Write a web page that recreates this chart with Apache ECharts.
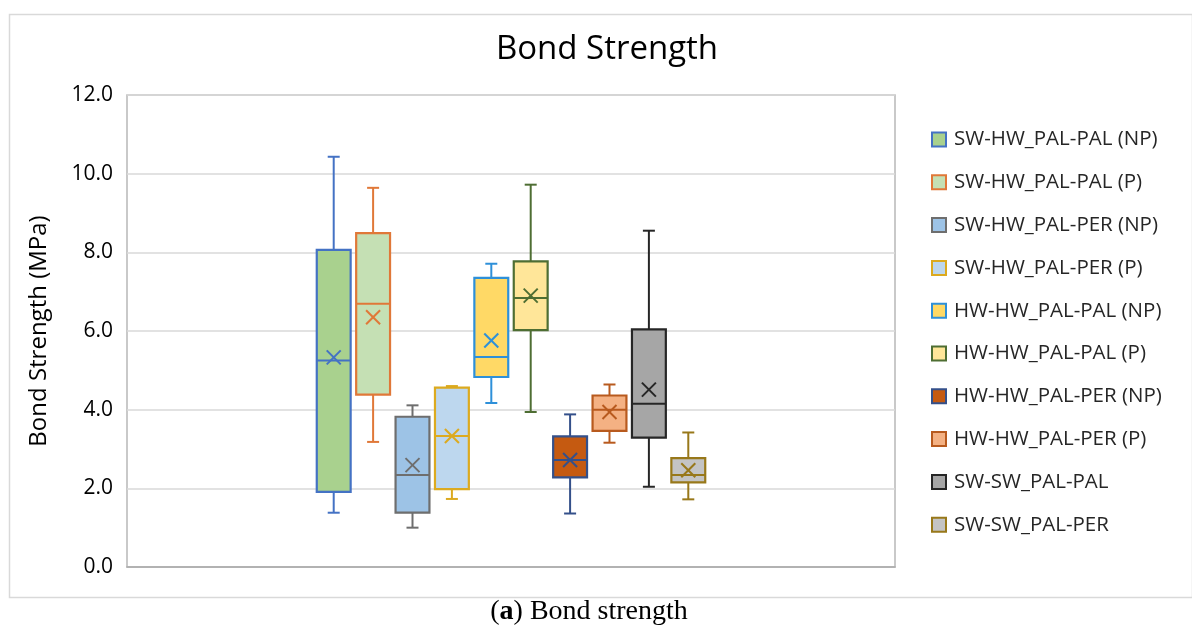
<!DOCTYPE html>
<html><head><meta charset="utf-8">
<script src="https://cdn.jsdelivr.net/npm/echarts@6/dist/echarts.min.js"></script>
<style>html,body{margin:0;padding:0;background:#fff}#c{width:1192px;height:626px}</style>
</head><body><div id="c"></div><script>
const seriesNames = ['SW-HW_PAL-PAL (NP)','SW-HW_PAL-PAL (P)','SW-HW_PAL-PER (NP)','SW-HW_PAL-PER (P)','HW-HW_PAL-PAL (NP)','HW-HW_PAL-PAL (P)','HW-HW_PAL-PER (NP)','HW-HW_PAL-PER (P)','SW-SW_PAL-PAL','SW-SW_PAL-PER'];
const minVals    = [1.38, 3.18, 1.00, 1.73, 4.17, 3.94, 1.36, 3.16, 2.04, 1.72];
const q1Vals     = [1.91, 4.38, 1.38, 1.98, 4.83, 6.02, 2.28, 3.46, 3.29, 2.15];
const medianVals = [5.25, 6.69, 2.34, 3.33, 5.34, 6.84, 2.72, 4.00, 4.15, 2.34];
const q3Vals     = [8.06, 8.49, 3.82, 4.56, 7.35, 7.77, 3.32, 4.36, 6.04, 2.77];
const maxVals    = [10.43, 9.64, 4.11, 4.60, 7.71, 9.72, 3.88, 4.64, 8.55, 3.42];
const meanVals   = [5.33, 6.35, 2.59, 3.33, 5.76, 6.90, 2.72, 3.94, 4.51, 2.46];
const fillColors   = ['#a9d18e','#c5e0b4','#9dc3e6','#bdd7ee','#ffd966','#ffe699','#c55a11','#f4b183','#a6a6a6','#c4c4c4'];
const borderColors = ['#4472c4','#e07838','#6e6e6e','#dcaa1f','#2e90d9','#4e6e33','#34508a','#b85a1e','#262626','#98781a'];
const categories = [''];
const yMin = 0, yMax = 12, yInterval = 2;

const FONT = 'Open Sans';
const GROUP_FRAC = 0.513;
const BOX_FRAC = 0.86;

function renderBox(idx) {
  return function (params, api) {
    const n = seriesNames.length;
    const band = api.size([1, 0])[0];
    const slot = band * GROUP_FRAC / n;
    const bw = slot * BOX_FRAC;
    const cx = api.coord([api.value(0), 0])[0] + (idx - (n - 1) / 2) * slot;
    const y = k => api.coord([api.value(0), api.value(k)])[1];
    const ya = y(1), yq1 = y(2), ymed = y(3), yq3 = y(4), yb = y(5), ymean = y(6);
    const stroke = borderColors[idx];
    const ls = {stroke: stroke, lineWidth: 2, fill: null};
    const cap = 6, xs = 7;
    return {type: 'group', children: [
      {type: 'line', shape: {x1: cx, y1: yb, x2: cx, y2: yq3}, style: ls},
      {type: 'line', shape: {x1: cx, y1: yq1, x2: cx, y2: ya}, style: ls},
      {type: 'line', shape: {x1: cx - cap, y1: yb, x2: cx + cap, y2: yb}, style: ls},
      {type: 'line', shape: {x1: cx - cap, y1: ya, x2: cx + cap, y2: ya}, style: ls},
      {type: 'rect', shape: {x: cx - bw / 2, y: yq3, width: bw, height: yq1 - yq3}, style: {fill: fillColors[idx], stroke: stroke, lineWidth: 2.2}},
      {type: 'line', shape: {x1: cx - bw / 2, y1: ymed, x2: cx + bw / 2, y2: ymed}, style: ls},
      {type: 'line', shape: {x1: cx - xs, y1: ymean - xs, x2: cx + xs, y2: ymean + xs}, style: ls},
      {type: 'line', shape: {x1: cx - xs, y1: ymean + xs, x2: cx + xs, y2: ymean - xs}, style: ls}
    ]};
  };
}

const series = seriesNames.map((name, i) => ({
  name: name,
  type: 'custom',
  renderItem: renderBox(i),
  encode: {x: 0, y: [1, 2, 3, 4, 5, 6]},
  itemStyle: {color: fillColors[i], borderColor: borderColors[i], borderWidth: 2},
  data: [[0, minVals[i], q1Vals[i], medianVals[i], q3Vals[i], maxVals[i], meanVals[i]]]
}));

const chart = echarts.init(document.getElementById('c'), null, {renderer: 'canvas'});
chart.setOption({
  backgroundColor: '#fff',
  animation: false,
  title: {
    text: 'Bond Strength', left: 602, top: 28, textAlign: 'center',
    textStyle: {fontFamily: FONT, fontSize: 33, fontWeight: 'normal', color: '#000'}
  },
  legend: {
    orient: 'vertical', left: 926, top: 124, itemWidth: 14, itemHeight: 14, itemGap: 21.8,
    icon: 'rect',
    textStyle: {fontFamily: FONT, fontSize: 20.5, color: '#262626', padding: [0, 0, 0, 3]},
    data: seriesNames.map((n, i) => ({name: n, itemStyle: {color: fillColors[i], borderColor: borderColors[i], borderWidth: 2}}))
  },
  grid: {left: 127, top: 95, width: 768, height: 472, show: true, borderColor: '#b8b8b8', borderWidth: 1.5, backgroundColor: 'transparent'},
  xAxis: {
    type: 'category', data: categories,
    axisLine: {show: true, lineStyle: {color: '#a6a6a6', width: 1.5}},
    axisTick: {show: false}, axisLabel: {show: false}, splitLine: {show: false}
  },
  yAxis: {
    type: 'value', min: yMin, max: yMax, interval: yInterval,
    name: 'Bond Strength (MPa)', nameLocation: 'middle', nameGap: 76, nameRotate: 90,
    nameTextStyle: {fontFamily: FONT, fontSize: 24, color: '#000'},
    axisLine: {show: false}, axisTick: {show: false},
    axisLabel: {fontFamily: FONT, fontSize: 21, color: '#000', margin: 14, formatter: v => v.toFixed(1)},
    splitLine: {lineStyle: {color: '#d9d9d9', width: 1.5}}
  },
  graphic: [
    {type: 'rect', left: 7, top: 12, shape: {width: 1183, height: 583}, style: {fill: null, stroke: '#d9d9d9', lineWidth: 1.5}, silent: true},
    {type: 'text', x: 589, y: 612, style: {
      text: '({b|a}) Bond strength', fontFamily: 'Liberation Serif', fontSize: 28, fill: '#000',
      align: 'center', verticalAlign: 'middle',
      rich: {b: {fontFamily: 'Liberation Serif', fontSize: 28, fontWeight: 'bold', fill: '#000'}}
    }}
  ],
  series: series
});
</script></body></html>
